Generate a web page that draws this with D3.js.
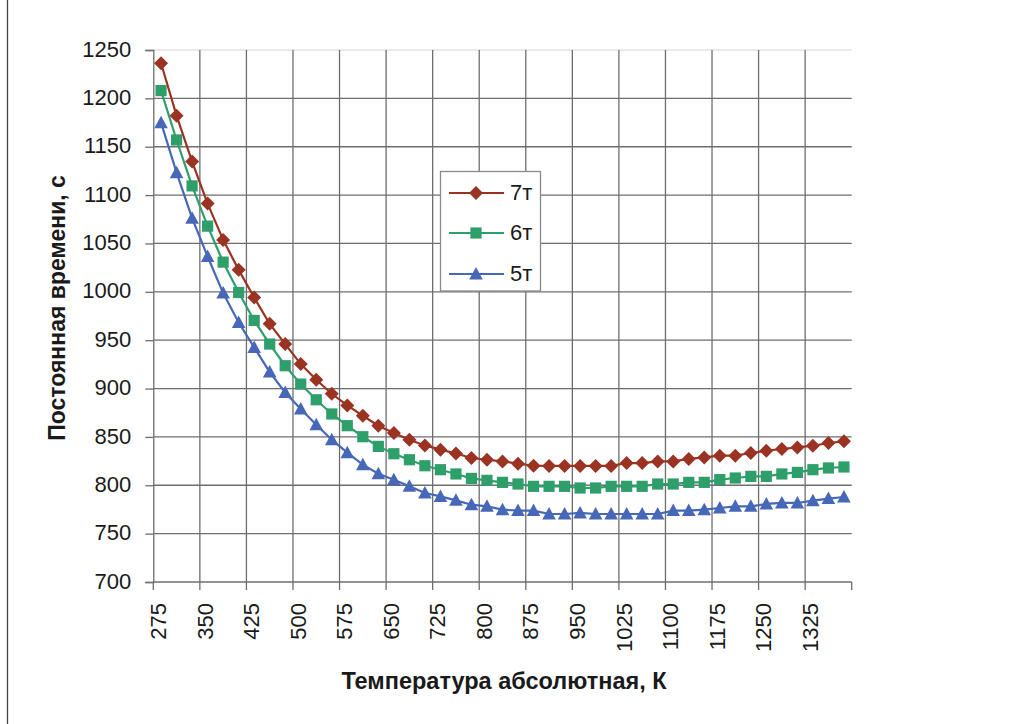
<!DOCTYPE html>
<html><head><meta charset="utf-8">
<script src="https://cdn.jsdelivr.net/npm/d3@7"></script>
<style>
html,body{margin:0;padding:0;background:#fff;}
text{font-family:"Liberation Sans",Arial,sans-serif;fill:#1a1a1a;}
</style></head>
<body>
<svg id="chart" width="1014" height="724"></svg>
<script>
const categories = [275,300,325,350,375,400,425,450,475,500,525,550,575,600,625,650,675,700,725,750,775,800,825,850,875,900,925,950,975,1000,1025,1050,1075,1100,1125,1150,1175,1200,1225,1250,1275,1300,1325,1350,1375];
const tickLabels = [275,350,425,500,575,650,725,800,875,950,1025,1100,1175,1250,1325];
const yTicks = [700,750,800,850,900,950,1000,1050,1100,1150,1200,1250];
const seriesNames = ["7т","6т","5т"];
const s7 = [1236.3,1182.1,1134.6,1091.2,1053.7,1022.7,994.1,966.9,946,925.3,909.1,894.6,882.5,871.9,861.6,854.0,847.1,841.2,836.8,832.9,828.2,826.4,824.7,822.3,820.2,820,820,820,820,820,823,823,824.7,824.7,827.2,828.8,830.6,830.6,833.4,835.7,837.5,839.1,840.9,843.7,845.4];
const s6 = [1208,1157,1109.5,1067.9,1030.7,999.3,970.4,946,923.6,904.6,888.4,873.7,861.6,850.2,840.2,832.6,826.4,820.2,816.1,811.7,807.1,805.1,803.0,801.3,798.9,798.9,798.9,797.2,797.2,798.9,798.9,798.9,801.3,801.3,803,803,805.8,807.5,809.2,809.2,811.7,813.3,816.1,817.9,818.9];
const s5 = [1174.9,1123.2,1076.1,1036.5,998.7,968.3,942.5,917,896,878.8,862.6,847.1,833.7,821.3,812,805.8,798.9,792.0,788.5,784.4,779.9,778.2,774.8,773.8,773.8,770.3,770.3,771.4,770.3,770.3,770.3,770.3,770.3,773.8,773.8,774.8,776.5,778.2,778.2,780.7,781.7,781.7,784.1,786.2,787.9];
const seriesValues = [s7, s6, s5];
const colors = ["#9B3322","#2E9E6B","#4767B8"];
const markerTypes = ["diamond","square","triangle"];

const svg = d3.select("#chart");
const L = 153.3, R = 851.7, T = 50, B = 582;
const x = d3.scaleBand().domain(categories).range([L, R]).padding(0);
const y = d3.scaleLinear().domain([700,1250]).range([B, T]);
const bw = x.bandwidth();

// left figure border
svg.append("line").attr("x1",7.5).attr("x2",7.5).attr("y1",0).attr("y2",724)
  .attr("stroke","#444").attr("stroke-width",1.3);

// horizontal gridlines
svg.append("g").selectAll("line").data(yTicks.filter(d=>d>700)).join("line")
  .attr("x1",L).attr("x2",R).attr("y1",d=>y(d)).attr("y2",d=>y(d))
  .attr("stroke",d=>d===1250?"#e2e2e2":"#6e6e6e").attr("stroke-width",1.3);

// vertical gridlines every 3 categories
const gridCats = categories.filter((c,i)=>i%3===0 && i>0);
svg.append("g").selectAll("line").data(gridCats).join("line")
  .attr("x1",d=>x(d)).attr("x2",d=>x(d)).attr("y1",T).attr("y2",B)
  .attr("stroke","#6e6e6e").attr("stroke-width",1.3);

// y axis
const yAxis = d3.axisLeft(y).tickValues(yTicks).tickFormat(d3.format("d")).tickSize(8).tickPadding(14);
const gy = svg.append("g").attr("transform",`translate(${L},0)`).call(yAxis);
gy.select(".domain").attr("stroke","#6e6e6e").attr("stroke-width",1.3);
gy.selectAll(".tick line").attr("stroke","#6e6e6e").attr("stroke-width",1.3);
gy.selectAll(".tick text").style("font-size","22px").attr("dy","0.28em")
  .style("font-family","'Liberation Sans',Arial,sans-serif").attr("fill","#1a1a1a");

// x axis line and ticks
svg.append("line").attr("x1",L).attr("x2",R).attr("y1",B).attr("y2",B)
  .attr("stroke","#6e6e6e").attr("stroke-width",1.3);
const tickPos = categories.filter((c,i)=>i%3===0).map(c=>x(c)).concat([R]);
svg.append("g").selectAll("line").data(tickPos).join("line")
  .attr("x1",d=>d).attr("x2",d=>d).attr("y1",B).attr("y2",B+8)
  .attr("stroke","#6e6e6e").attr("stroke-width",1.3);
svg.append("g").selectAll("text").data(tickLabels).join("text")
  .attr("transform",d=>`translate(${x(d)+bw/2-3},603) rotate(-90)`)
  .attr("text-anchor","end").attr("dy","0.36em")
  .style("font-size","22px").text(d=>d);

// axis titles
svg.append("text").attr("x",504).attr("y",689).attr("text-anchor","middle")
  .style("font-size","23.5px").style("font-weight","bold").text("Температура абсолютная, К");
svg.append("text").attr("transform","translate(65,308) rotate(-90)").attr("text-anchor","middle")
  .style("font-size","23px").style("font-weight","bold").text("Постоянная времени, с");

function markerPath(type){
  if(type==="diamond") return "M0,-7L7,0L0,7L-7,0Z";
  if(type==="square") return "M-5.6,-5.6H5.6V5.6H-5.6Z";
  return "M0,-7L6.8,5.5L-6.8,5.5Z";
}

const line = d3.line().x((d,i)=>x(categories[i])+bw/2).y(d=>y(d));
seriesValues.forEach((vals,si)=>{
  const g = svg.append("g");
  g.append("path").attr("d",line(vals)).attr("fill","none")
    .attr("stroke",colors[si]).attr("stroke-width",2.2);
  g.selectAll("path.m").data(vals).join("path").attr("class","m")
    .attr("d",markerPath(markerTypes[si]))
    .attr("transform",(d,i)=>`translate(${x(categories[i])+bw/2},${y(d)})`)
    .attr("fill",colors[si]);
});

// legend
const lg = svg.append("g");
lg.append("rect").attr("x",440.5).attr("y",171.5).attr("width",100).attr("height",119.5)
  .attr("fill","#fff").attr("stroke","#8a8a8a").attr("stroke-width",1.3);
const rowsY = [193,233,274];
seriesNames.forEach((n,i)=>{
  lg.append("line").attr("x1",449).attr("x2",504).attr("y1",rowsY[i]).attr("y2",rowsY[i])
    .attr("stroke",colors[i]).attr("stroke-width",2.2);
  lg.append("path").attr("d",markerPath(markerTypes[i]))
    .attr("transform",`translate(476,${rowsY[i]})`).attr("fill",colors[i]);
  lg.append("text").attr("x",510).attr("y",rowsY[i]).attr("dy","0.33em")
    .style("font-size","22px").text(n);
});
</script>
</body></html>
